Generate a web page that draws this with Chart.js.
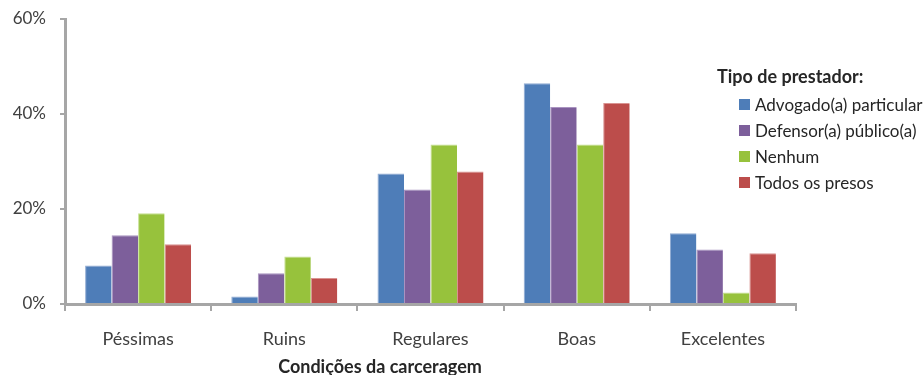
<!DOCTYPE html>
<html>
<head>
<meta charset="utf-8">
<script src="https://cdn.jsdelivr.net/npm/chart.js@4/dist/chart.umd.min.js"></script>
<style>
  html, body { margin: 0; padding: 0; background: #fff; }
  #wrap { position: relative; width: 923px; height: 375px; overflow: hidden; font-family: Lato, "Open Sans", sans-serif; }
  #c { position: absolute; left: 0; top: 0; }
  #xtitle { position: absolute; left: 230px; width: 300px; top: 355px; text-align: center; font-weight: bold; font-size: 18px; line-height: 22px; color: #262626; white-space: nowrap; }
  #legend { position: absolute; left: 717px; top: 64px; color: #262626; }
  #legend .ttl { font-weight: bold; font-size: 18px; line-height: 24px; margin-bottom: 3px; }
  #legend .row { display: flex; align-items: center; height: 26px; margin-left: 22px; font-size: 17px; white-space: nowrap; }
  #legend .sw { width: 11px; height: 11px; margin-right: 5px; }
</style>
</head>
<body>
<div id="wrap">
  <canvas id="c" width="923" height="375"></canvas>
  <div id="xtitle">Condições da carceragem</div>
  <div id="legend"></div>
</div>
<script>
// Prison cell conditions, share of inmates by type of legal representation
const categories = ["Péssimas", "Ruins", "Regulares", "Boas", "Excelentes"];
const seriesNames = ["Advogado(a) particular", "Defensor(a) público(a)", "Nenhum", "Todos os presos"];
const advogado = [8.1, 1.6, 27.5, 46.5, 14.9];
const defensor = [14.5, 6.5, 24.1, 41.5, 11.5];
const nenhum = [19.1, 10.0, 33.6, 33.6, 2.4];
const todos = [12.6, 5.5, 27.9, 42.3, 10.7];
const yTicks = [0, 20, 40, 60];
const legendTitle = "Tipo de prestador:";

const colors = ["#4E7DB8", "#7D5F9B", "#97C23C", "#BC4D4B"];
const edges = ["#8FAAD2", "#A993C0", "#C4DF8E", "#D99391"];
const values = [advogado, defensor, nenhum, todos];

const axisGray = "#A6A6A6";
const textColor = "#404040";

const datasets = seriesNames.map((name, i) => ({
  label: name,
  data: values[i],
  backgroundColor: colors[i],
  borderColor: edges[i],
  borderWidth: { top: 1, left: 1, right: 0, bottom: 0 },
  categoryPercentage: 0.725,
  barPercentage: 1.0
}));

const chart = new Chart(document.getElementById("c"), {
  type: "bar",
  data: { labels: categories, datasets },
  options: {
    responsive: false,
    animation: false,
    events: [],
    layout: { autoPadding: false, padding: { top: 19, right: 127, left: 0, bottom: 0 } },
    plugins: { legend: { display: false }, tooltip: { enabled: false } },
    scales: {
      x: {
        grid: { display: true, drawOnChartArea: false, drawTicks: true, tickLength: 7, color: axisGray, lineWidth: 2, offset: true },
        border: { display: true, color: axisGray, width: 3 },
        ticks: { color: textColor, font: { family: "Lato", size: 18 }, padding: 17 },
        afterFit: s => { s.height = 71; s.paddingLeft = 0; s.paddingRight = 0; }
      },
      y: {
        min: 0, max: 60,
        afterBuildTicks: s => { s.ticks = yTicks.map(v => ({ value: v })); },
        grid: { display: true, drawOnChartArea: false, drawTicks: true, tickLength: 5, color: axisGray, lineWidth: 2 },
        border: { display: true, color: axisGray, width: 3 },
        ticks: { color: textColor, font: { family: "Lato", size: 17 }, padding: 14, callback: v => v + "%" },
        // fixed axis width; the layout padding alone sets the plot top
        afterFit: s => { s.width = 65; s.paddingTop = 0; s.paddingBottom = 0; }
      }
    }
  }
});

// Legend built from the chart's datasets
const leg = document.getElementById("legend");
const t = document.createElement("div");
t.className = "ttl";
t.textContent = legendTitle;
leg.appendChild(t);
chart.data.datasets.forEach(ds => {
  const r = document.createElement("div");
  r.className = "row";
  const sw = document.createElement("span");
  sw.className = "sw";
  sw.style.background = ds.backgroundColor;
  const tx = document.createElement("span");
  tx.textContent = ds.label;
  r.appendChild(sw);
  r.appendChild(tx);
  leg.appendChild(r);
});
</script>
</body>
</html>
